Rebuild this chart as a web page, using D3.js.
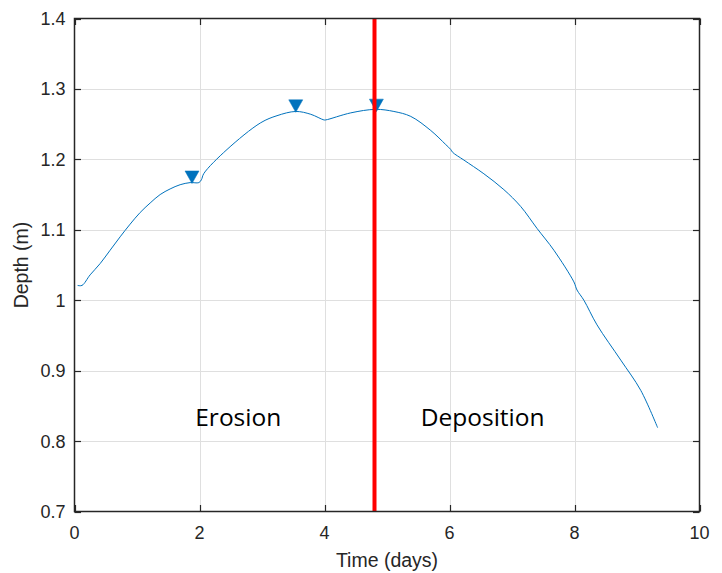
<!DOCTYPE html>
<html>
<head>
<meta charset="utf-8">
<script src="https://cdn.jsdelivr.net/npm/d3@7"></script>
<style>
  html, body { margin: 0; padding: 0; background: #fff; }
  svg { display: block; }
</style>
</head>
<body>
<svg id="chart" width="722" height="573"></svg>
<script>
// ---- Data ----
const timeDays = [0.05, 0.12, 0.25, 0.41, 0.57, 0.73, 0.89, 1.05, 1.21, 1.37, 1.53, 1.69, 1.85, 1.99, 2.03, 2.07, 2.44, 2.98, 3.24, 3.54, 3.78, 3.99, 4.02, 4.42, 4.82, 5.11, 5.38, 5.70, 5.94, 6.02, 6.05, 6.23, 6.55, 6.87, 7.14, 7.40, 7.67, 7.99, 8.04, 8.15, 8.36, 8.74, 9.06, 9.33];
const depthM   = [1.021, 1.021, 1.036, 1.052, 1.071, 1.090, 1.108, 1.1245, 1.138, 1.150, 1.158, 1.164, 1.167, 1.167, 1.171, 1.180, 1.214, 1.252, 1.262, 1.268, 1.264, 1.256, 1.256, 1.266, 1.271, 1.268, 1.261, 1.241, 1.221, 1.214, 1.210, 1.199, 1.1795, 1.157, 1.133, 1.102, 1.071, 1.026, 1.0145, 1.000, 0.965, 0.915, 0.872, 0.819];
const markerTime  = [1.88, 3.54, 4.83];
const markerDepth = [1.175, 1.276, 1.277];
const dividerTime = 4.8;
const regionLabels = ["Erosion", "Deposition"];
const regionLabelTime = [2.62, 6.53];
const regionLabelDepth = [0.835, 0.835];
const xTicks = [0, 2, 4, 6, 8, 10];
const yTicks = [0.7, 0.8, 0.9, 1, 1.1, 1.2, 1.3, 1.4];
const xLabel = "Time (days)";
const yLabel = "Depth (m)";

// ---- Layout ----
const svg = d3.select("#chart");
const L = 74.5, R = 699.5, T = 18.5, B = 511.5;
const x = d3.scaleLinear().domain([0, 10]).range([L, R]);
const y = d3.scaleLinear().domain([0.7, 1.4]).range([B, T]);
const axisColor = "#262626";
const blue = "#0072BD";

// grid
const g = svg.append("g");
g.selectAll("line.gx").data(xTicks.slice(1, -1)).join("line")
  .attr("x1", d => Math.round(x(d)) + 0.5).attr("x2", d => Math.round(x(d)) + 0.5)
  .attr("y1", T).attr("y2", B)
  .attr("stroke", "#dfdfdf").attr("stroke-width", 1);
g.selectAll("line.gy").data(yTicks.slice(1, -1)).join("line")
  .attr("y1", d => Math.round(y(d)) + 0.5).attr("y2", d => Math.round(y(d)) + 0.5)
  .attr("x1", L).attr("x2", R)
  .attr("stroke", "#dfdfdf").attr("stroke-width", 1);

// data line
const line = d3.line().x((d, i) => x(timeDays[i])).y((d, i) => y(depthM[i])).curve(d3.curveCatmullRom.alpha(0.5));
svg.append("path").datum(depthM)
  .attr("d", line).attr("fill", "none").attr("stroke", blue).attr("stroke-width", 1);

// markers (down triangles)
svg.selectAll("path.mk").data(markerTime).join("path")
  .attr("transform", (d, i) => `translate(${x(d)},${y(markerDepth[i])})`)
  .attr("d", "M-7,-6 L7,-6 L0,6.5 Z")
  .attr("fill", blue).attr("stroke", blue).attr("stroke-width", 0.5);

// red divider
svg.append("line")
  .attr("x1", x(dividerTime)).attr("x2", x(dividerTime))
  .attr("y1", T).attr("y2", B)
  .attr("stroke", "#ff0000").attr("stroke-width", 4);

// region labels
svg.selectAll("text.rl").data(regionLabels).join("text")
  .attr("x", (d, i) => x(regionLabelTime[i]))
  .attr("y", (d, i) => y(regionLabelDepth[i]))
  .attr("text-anchor", "middle").attr("dominant-baseline", "central")
  .attr("font-family", "Open Sans, sans-serif").attr("font-size", 24.5)
  .attr("fill", "#000").text(d => d);

// axes box
const axG = svg.append("g");
axG.append("rect").attr("x", L).attr("y", T).attr("width", R - L).attr("height", B - T)
  .attr("fill", "none").attr("stroke", axisColor).attr("stroke-width", 1.5);

// ticks (inward, all sides)
const tl = 6.5;
xTicks.forEach(t => {
  const px = Math.round(x(t)) + 0.5;
  axG.append("line").attr("x1", px).attr("x2", px).attr("y1", B).attr("y2", B - tl).attr("stroke", axisColor).attr("stroke-width", 1.2);
  axG.append("line").attr("x1", px).attr("x2", px).attr("y1", T).attr("y2", T + tl).attr("stroke", axisColor).attr("stroke-width", 1.2);
});
yTicks.forEach(t => {
  const py = Math.round(y(t)) + 0.5;
  axG.append("line").attr("x1", L).attr("x2", L + tl).attr("y1", py).attr("y2", py).attr("stroke", axisColor).attr("stroke-width", 1.2);
  axG.append("line").attr("x1", R).attr("x2", R - tl).attr("y1", py).attr("y2", py).attr("stroke", axisColor).attr("stroke-width", 1.2);
});

// tick labels
const fmtY = d => d === 1 ? "1" : d3.format(".1f")(d);
axG.selectAll("text.xt").data(xTicks).join("text")
  .attr("x", d => x(d)).attr("y", B + 27.5)
  .attr("text-anchor", "middle")
  .attr("font-family", "Liberation Sans, Arial, sans-serif").attr("font-size", 18)
  .attr("fill", axisColor).text(d => d);
axG.selectAll("text.yt").data(yTicks).join("text")
  .attr("x", L - 9).attr("y", d => y(d)).attr("dy", "0.36em")
  .attr("text-anchor", "end")
  .attr("font-family", "Liberation Sans, Arial, sans-serif").attr("font-size", 18)
  .attr("fill", axisColor).text(fmtY);

// axis labels
svg.append("text").attr("x", (L + R) / 2).attr("y", 566.5)
  .attr("text-anchor", "middle")
  .attr("font-family", "Liberation Sans, Arial, sans-serif").attr("font-size", 19.5)
  .attr("fill", axisColor).text(xLabel);
svg.append("text")
  .attr("transform", `translate(28,${(T + B) / 2}) rotate(-90)`)
  .attr("text-anchor", "middle")
  .attr("font-family", "Liberation Sans, Arial, sans-serif").attr("font-size", 19.5)
  .attr("fill", axisColor).text(yLabel);
</script>
</body>
</html>
